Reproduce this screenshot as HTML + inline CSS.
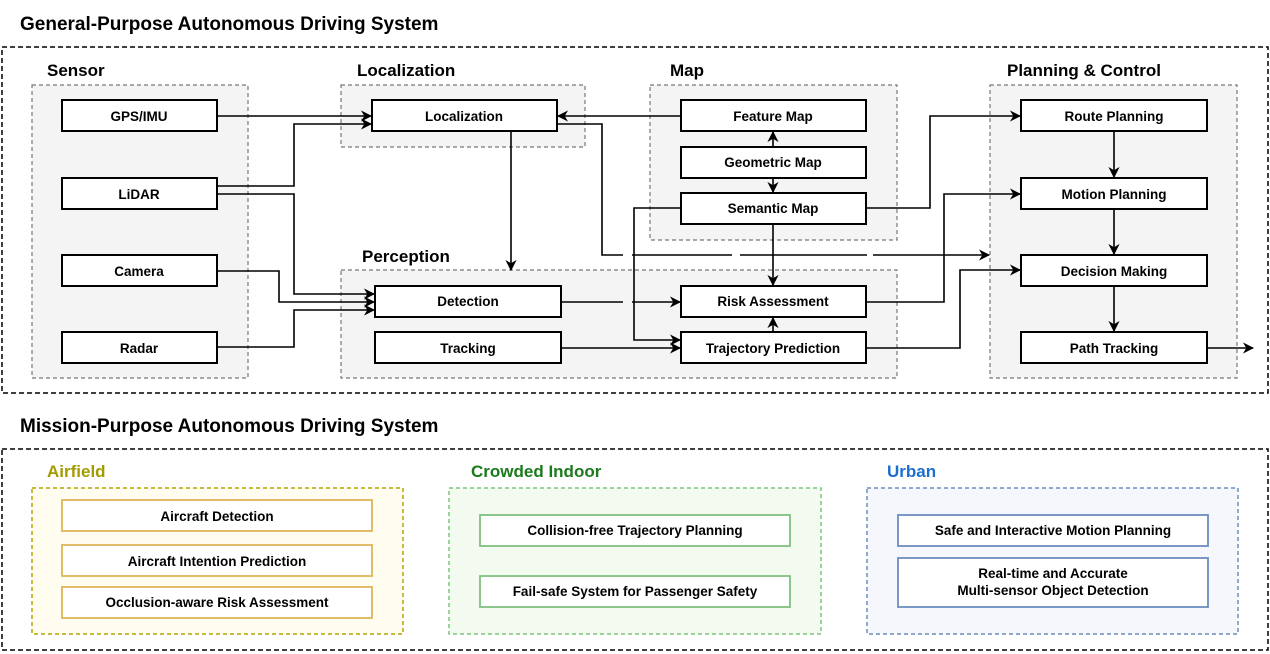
<!DOCTYPE html>
<html><head><meta charset="utf-8"><style>
html,body{margin:0;padding:0;background:#fff;}
svg{display:block;font-family:"Liberation Sans",Arial,sans-serif;}
.b{fill:#fff;stroke:#000;stroke-width:2;}
.t{font-size:13.5px;font-weight:bold;text-anchor:middle;}
.g{fill:#f4f4f4;stroke:#777;stroke-width:1.2;stroke-dasharray:4 3;}
.h{font-size:17px;font-weight:bold;}
.l{fill:none;stroke:#000;stroke-width:1.6;}
</style></head><body>
<svg width="1270" height="654" viewBox="0 0 1270 654" xmlns="http://www.w3.org/2000/svg">
<defs><marker id="a" viewBox="0 0 10 10" refX="9" refY="5" markerWidth="7" markerHeight="7" orient="auto-start-reverse"><path d="M0,0 L10,5 L0,10 L3,5 z" fill="#000"/></marker></defs>
<text x="20" y="30" style="font-size:19px;font-weight:bold">General-Purpose Autonomous Driving System</text>
<rect x="2" y="47" width="1266" height="346" fill="none" stroke="#000" stroke-width="1.5" stroke-dasharray="5 3"/>
<text x="47" y="76" class="h">Sensor</text>
<rect x="32" y="85" width="216" height="293" class="g"/>
<text x="357" y="76" class="h">Localization</text>
<rect x="341" y="85" width="244" height="62" class="g"/>
<text x="670" y="76" class="h">Map</text>
<rect x="650" y="85" width="247" height="155" class="g"/>
<text x="362" y="262" class="h">Perception</text>
<rect x="341" y="270" width="556" height="108" class="g"/>
<text x="1007" y="76" class="h">Planning &amp; Control</text>
<rect x="990" y="85" width="247" height="293" class="g"/>
<!-- connectors -->
<g class="l" marker-end="url(#a)">
<path d="M217,116 H371"/>
<path d="M217,186 H294 V124 H371"/>
<path d="M217,194 H294 V294 H374"/>
<path d="M217,271 H279 V302 H374"/>
<path d="M217,347 H294 V310 H374"/>
<path d="M511,131 V270"/>
<path d="M681,116 H558"/>
<path d="M557,124 H602 V255 H623 M632,255 H732 M740,255 H867 M873,255 H989"/>
<path d="M561,302 H623 M632,302 H680"/>
<path d="M561,348 H680"/>
<path d="M681,208 H634 V340 H680"/>
<path d="M773,224 V285"/>
<path d="M773,147 V132"/>
<path d="M773,178 V192"/>
<path d="M773,332 V318"/>
<path d="M866,208 H930 V116 H1020"/>
<path d="M866,302 H944 V194 H1020"/>
<path d="M866,348 H960 V270 H1020"/>
<path d="M1114,131 V177"/>
<path d="M1114,209 V254"/>
<path d="M1114,286 V331"/>
<path d="M1207,348 H1253"/>
</g>
<!-- boxes -->
<rect x="62" y="100" width="155" height="31" class="b"/><text x="139" y="121" class="t">GPS/IMU</text>
<rect x="62" y="178" width="155" height="31" class="b"/><text x="139" y="199" class="t">LiDAR</text>
<rect x="62" y="255" width="155" height="31" class="b"/><text x="139" y="276" class="t">Camera</text>
<rect x="62" y="332" width="155" height="31" class="b"/><text x="139" y="353" class="t">Radar</text>
<rect x="372" y="100" width="185" height="31" class="b"/><text x="464" y="121" class="t">Localization</text>
<rect x="681" y="100" width="185" height="31" class="b"/><text x="773" y="121" class="t">Feature Map</text>
<rect x="681" y="147" width="185" height="31" class="b"/><text x="773" y="167" class="t">Geometric Map</text>
<rect x="681" y="193" width="185" height="31" class="b"/><text x="773" y="213" class="t">Semantic Map</text>
<rect x="375" y="286" width="186" height="31" class="b"/><text x="468" y="306" class="t">Detection</text>
<rect x="375" y="332" width="186" height="31" class="b"/><text x="468" y="353" class="t">Tracking</text>
<rect x="681" y="286" width="185" height="31" class="b"/><text x="773" y="306" class="t">Risk Assessment</text>
<rect x="681" y="332" width="185" height="31" class="b"/><text x="773" y="353" class="t">Trajectory Prediction</text>
<rect x="1021" y="100" width="186" height="31" class="b"/><text x="1114" y="121" class="t">Route Planning</text>
<rect x="1021" y="178" width="186" height="31" class="b"/><text x="1114" y="199" class="t">Motion Planning</text>
<rect x="1021" y="255" width="186" height="31" class="b"/><text x="1114" y="276" class="t">Decision Making</text>
<rect x="1021" y="332" width="186" height="31" class="b"/><text x="1114" y="353" class="t">Path Tracking</text>
<!-- bottom -->
<text x="20" y="432" style="font-size:19px;font-weight:bold">Mission-Purpose Autonomous Driving System</text>
<rect x="2" y="449" width="1266" height="201" fill="none" stroke="#000" stroke-width="1.5" stroke-dasharray="5 3"/>
<text x="47" y="477" class="h" fill="#a39b00">Airfield</text>
<rect x="32" y="488" width="371" height="146" fill="#fffdf0" stroke="#b5a300" stroke-width="1.5" stroke-dasharray="4 3"/>
<g fill="#fff" stroke="#e0b55a" stroke-width="1.8">
<rect x="62" y="500" width="310" height="31"/><rect x="62" y="545" width="310" height="31"/><rect x="62" y="587" width="310" height="31"/></g>
<text x="217" y="521" class="t">Aircraft Detection</text>
<text x="217" y="566" class="t">Aircraft Intention Prediction</text>
<text x="217" y="607" class="t">Occlusion-aware Risk Assessment</text>
<text x="471" y="477" class="h" fill="#1b7a1b">Crowded Indoor</text>
<rect x="449" y="488" width="372" height="146" fill="#f3faef" stroke="#7cc47c" stroke-width="1.5" stroke-dasharray="4 3"/>
<g fill="#fff" stroke="#80c080" stroke-width="1.8">
<rect x="480" y="515" width="310" height="31"/><rect x="480" y="576" width="310" height="31"/></g>
<text x="635" y="535" class="t">Collision-free Trajectory Planning</text>
<text x="635" y="596" class="t">Fail-safe System for Passenger Safety</text>
<text x="887" y="477" class="h" fill="#1c6fd0">Urban</text>
<rect x="867" y="488" width="371" height="146" fill="#f5f7fc" stroke="#6c8ebf" stroke-width="1.5" stroke-dasharray="4 3"/>
<g fill="#fff" stroke="#6c8ebf" stroke-width="1.8">
<rect x="898" y="515" width="310" height="31"/><rect x="898" y="558" width="310" height="49"/></g>
<text x="1053" y="535" class="t">Safe and Interactive Motion Planning</text>
<text x="1053" y="578" class="t">Real-time and Accurate</text>
<text x="1053" y="595" class="t">Multi-sensor Object Detection</text>
</svg>
</body></html>
